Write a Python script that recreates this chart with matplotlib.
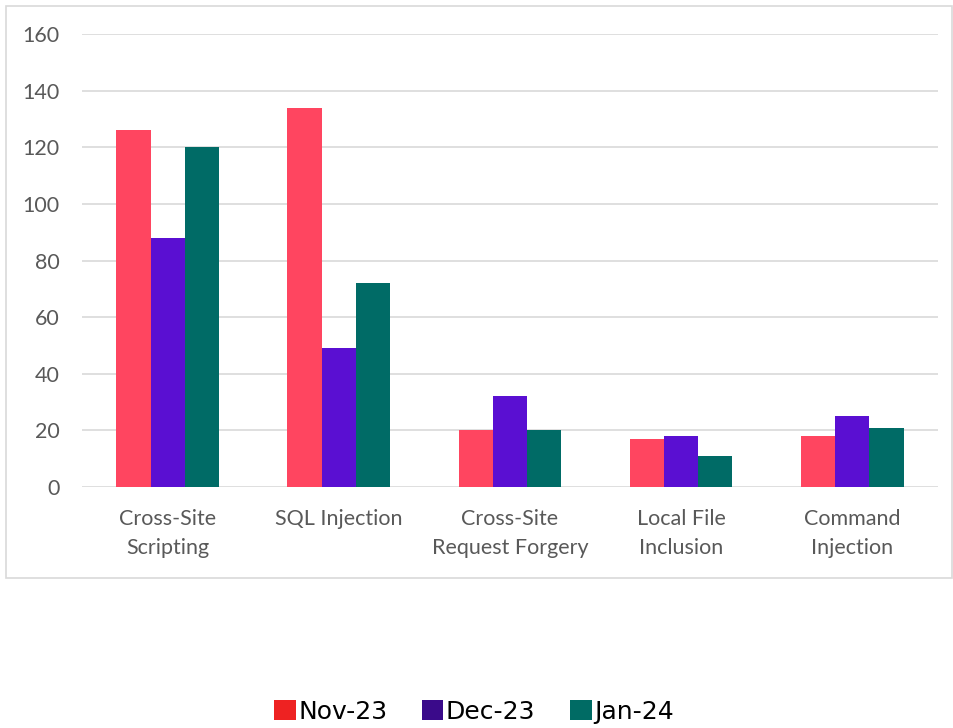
import matplotlib
matplotlib.use("agg")
from matplotlib import pyplot as plt
from matplotlib.patches import Rectangle, Patch
import numpy as np

categories = ["Cross-Site\nScripting", "SQL Injection", "Cross-Site\nRequest Forgery",
              "Local File\nInclusion", "Command\nInjection"]
series_names = ["Nov-23", "Dec-23", "Jan-24"]
nov_23 = [126, 134, 20, 17, 18]
dec_23 = [88, 49, 32, 18, 25]
jan_24 = [120, 72, 20, 11, 21]
y_ticks = [0, 20, 40, 60, 80, 100, 120, 140, 160]

BAR_COLORS = ["#FF4560", "#5A0FD2", "#006B66"]
LEGEND_COLORS = ["#EE2222", "#3A0A8A", "#006B64"]
GRID = "#D9D9D9"
TEXT = "#595959"

fig = plt.figure(figsize=(9.54, 7.28), dpi=100)
ax = fig.add_axes([0.086, 0.331, 0.897, 0.622])

x = np.arange(len(categories))
width = 0.2
for i, vals in enumerate([nov_23, dec_23, jan_24]):
    ax.bar(x + (i - 1) * width, vals, width, color=BAR_COLORS[i], zorder=3)

ax.set_xlim(-0.5, len(categories) - 0.5)
ax.set_ylim(0, 160)
ax.set_yticks(y_ticks)
ax.set_xticks(x)
ax.set_xticklabels(categories)
ax.yaxis.grid(True, color=GRID, lw=1.2, zorder=0)
for s in ax.spines.values():
    s.set_visible(False)
ax.tick_params(length=0, labelsize=15.5, labelcolor=TEXT)
ax.tick_params(axis="y", pad=16)
ax.tick_params(axis="x", pad=16)
for lbl in ax.get_xticklabels() + ax.get_yticklabels():
    lbl.set_family("Lato")
    lbl.set_linespacing(1.55)

# chart frame
fig.patches.append(Rectangle((6 / 954, 1 - 578 / 728), 946 / 954, 572 / 728,
                             transform=fig.transFigure, fill=False,
                             edgecolor=GRID, lw=1.2))

handles = [Patch(facecolor=c, edgecolor="none") for c in LEGEND_COLORS]
fig.legend(handles, series_names, loc="center", bbox_to_anchor=(0.497, 0.022),
           ncol=3, frameon=False, handlelength=0.85, handleheight=0.85,
           handletextpad=0.1, columnspacing=1.4,
           prop={"family": "DejaVu Sans", "size": 18})

fig.savefig("out.png", dpi=100)
